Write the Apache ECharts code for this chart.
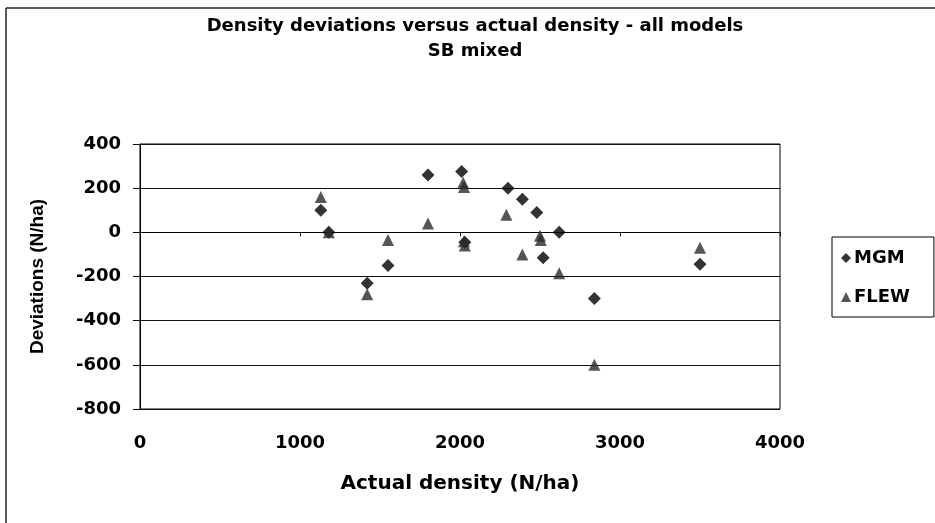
<!DOCTYPE html>
<html>
<head>
<meta charset="utf-8">
<script src="https://cdn.jsdelivr.net/npm/echarts@6/dist/echarts.min.js"></script>
<style>
  html, body { margin: 0; padding: 0; background: #fff; }
  #chart { width: 935px; height: 523px; }
</style>
</head>
<body>
<div id="chart"></div>
<script>
// Actual stand density (N/ha) and deviation of predicted density (N/ha)
var mgmDensity   = [1130, 1180, 1420, 1550, 1800, 2010, 2030, 2300, 2390, 2480, 2520, 2620, 2840, 3500];
var mgmDeviation = [ 100,    0, -230, -150,  260,  275,  -45,  200,  150,   90, -115,    0, -300, -145];

var flewDensity   = [1130, 1180, 1420, 1550, 1800, 2020, 2025, 2025, 2030, 2290, 2390, 2500, 2505, 2620, 2840, 3500];
var flewDeviation = [ 160,    0, -280,  -35,   40,  225,  205,  -40,  -60,   80, -100,  -15,  -35, -185, -600,  -70];

var xTicks = [0, 1000, 2000, 3000, 4000];
var yTicks = [-800, -600, -400, -200, 0, 200, 400];

var seriesNames = ['MGM', 'FLEW'];
var titleLines = ['Density deviations versus actual density - all models', 'SB mixed'];
var xAxisTitle = 'Actual density (N/ha)';
var yAxisTitle = 'Deviations (N/ha)';

function pairs(xs, ys) {
  return xs.map(function (x, i) { return [x, ys[i]]; });
}

var FONT = '"DejaVu Sans", "Liberation Sans", sans-serif';
var chart = echarts.init(document.getElementById('chart'), null, { renderer: 'canvas' });

chart.setOption({
  animation: false,
  backgroundColor: '#fff',
  title: {
    text: titleLines.join('\n'),
    left: 470,
    top: 9,
    textAlign: 'center',
    textStyle: { fontFamily: FONT, fontWeight: 'bold', fontSize: 18, color: '#000', lineHeight: 25 }
  },
  graphic: [
    // chart-area frame (left and top edges)
    { type: 'line', shape: { x1: 6, y1: 8, x2: 6, y2: 523 }, style: { stroke: '#222', lineWidth: 1.5 } },
    { type: 'line', shape: { x1: 6, y1: 8, x2: 935, y2: 8 }, style: { stroke: '#222', lineWidth: 1.5 } }
  ],
  legend: {
    orient: 'vertical',
    left: 832,
    top: 237,
    padding: [12, 24, 11, 9],
    itemGap: 21,
    itemWidth: 10,
    itemHeight: 10,
    borderColor: '#000',
    borderWidth: 1,
    textStyle: { fontFamily: FONT, fontWeight: 'bold', fontSize: 18, color: '#000', padding: [0, 0, 0, -2] },
    data: [
      { name: seriesNames[0], icon: 'diamond' },
      { name: seriesNames[1], icon: 'triangle' }
    ]
  },
  grid: {
    left: 140, top: 144, width: 640, height: 265,
    show: true, borderColor: '#000', borderWidth: 1, backgroundColor: 'transparent'
  },
  xAxis: {
    type: 'value',
    min: xTicks[0], max: xTicks[xTicks.length - 1], interval: 1000,
    name: xAxisTitle,
    nameLocation: 'middle',
    nameGap: 65,
    nameTextStyle: { fontFamily: FONT, fontWeight: 'bold', fontSize: 20, color: '#000' },
    axisLine: { show: true, lineStyle: { color: '#000', width: 1 } },
    axisTick: { show: true, length: 4, lineStyle: { color: '#000' } },
    axisLabel: {
      fontFamily: FONT, fontWeight: 'bold', fontSize: 18, color: '#000', margin: 25,
      formatter: function (v) { return String(v); }
    },
    splitLine: { show: false }
  },
  yAxis: {
    type: 'value',
    min: yTicks[0], max: yTicks[yTicks.length - 1], interval: 200,
    name: yAxisTitle,
    nameLocation: 'middle',
    nameGap: 93,
    nameTextStyle: { fontFamily: '"Liberation Sans", Arial, sans-serif', fontWeight: 'bold', fontSize: 19, color: '#000' },
    axisLine: { show: true, lineStyle: { color: '#000', width: 1 } },
    axisTick: { show: true, length: 7, lineStyle: { color: '#000' } },
    axisLabel: {
      fontFamily: FONT, fontWeight: 'bold', fontSize: 18, color: '#000', margin: 19,
      formatter: function (v) { return String(v); }
    },
    splitLine: { show: true, lineStyle: { color: '#111', width: 1 } }
  },
  series: [
    {
      name: seriesNames[0],
      type: 'scatter',
      symbol: 'diamond',
      symbolSize: 13,
      itemStyle: { color: '#000' },
      data: pairs(mgmDensity, mgmDeviation),
      z: 2
    },
    {
      name: seriesNames[1],
      type: 'scatter',
      symbol: 'triangle',
      symbolSize: [12, 12],
      itemStyle: { color: '#2b2b2b' },
      data: pairs(flewDensity, flewDeviation),
      z: 3
    }
  ]
});
</script>
</body>
</html>
